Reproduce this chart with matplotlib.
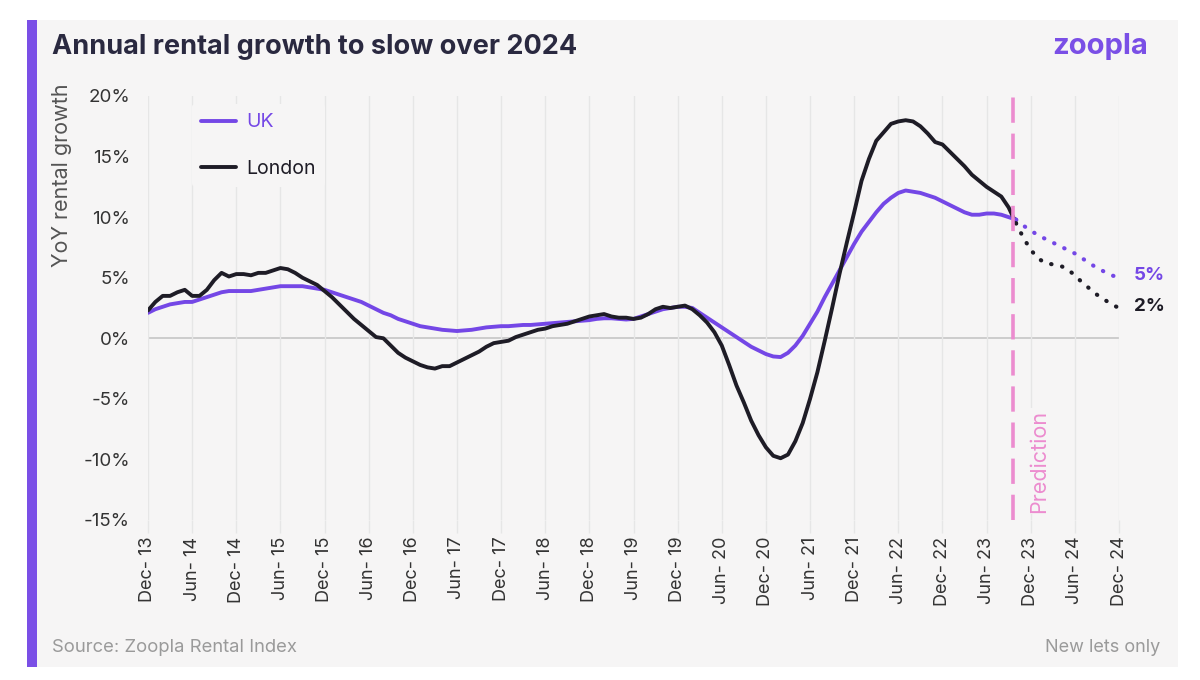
import matplotlib
matplotlib.use("Agg")
import matplotlib.pyplot as plt
from matplotlib.patches import Rectangle

plt.rcParams["font.family"] = ["Inter", "DejaVu Sans"]

# month index 0 = Dec-13
uk = [2.1, 2.4, 2.6, 2.8, 2.9, 3.0, 3.0, 3.2, 3.4, 3.6, 3.8, 3.9, 3.9, 3.9, 3.9, 4.0,
      4.1, 4.2, 4.3, 4.3, 4.3, 4.3, 4.2, 4.1, 4.0, 3.8, 3.6, 3.4, 3.2, 3.0, 2.7, 2.4,
      2.1, 1.9, 1.6, 1.4, 1.2, 1.0, 0.9, 0.8, 0.7, 0.65, 0.6, 0.65, 0.7, 0.8, 0.9, 0.95,
      1.0, 1.0, 1.05, 1.1, 1.1, 1.15, 1.2, 1.25, 1.3, 1.35, 1.4, 1.45, 1.5, 1.6, 1.65, 1.65,
      1.6, 1.55, 1.6, 1.8, 2.0, 2.2, 2.4, 2.5, 2.6, 2.6, 2.5, 2.1, 1.7, 1.3, 0.9, 0.5,
      0.1, -0.3, -0.7, -1.0, -1.3, -1.5, -1.55, -1.2, -0.6, 0.2, 1.2, 2.2, 3.4, 4.5, 5.6, 6.7,
      7.8, 8.8, 9.6, 10.4, 11.1, 11.6, 12.0, 12.2, 12.1, 12.0, 11.8, 11.6, 11.3, 11.0, 10.7, 10.4,
      10.2, 10.2, 10.3, 10.3, 10.2, 10.0, 9.8]
london = [2.3, 3.0, 3.5, 3.5, 3.8, 4.0, 3.5, 3.5, 4.0, 4.8, 5.4, 5.1, 5.3, 5.3, 5.2, 5.4,
          5.4, 5.6, 5.8, 5.7, 5.4, 5.0, 4.7, 4.4, 3.9, 3.4, 2.8, 2.2, 1.6, 1.1, 0.6, 0.1,
          0.0, -0.6, -1.2, -1.6, -1.9, -2.2, -2.4, -2.5, -2.3, -2.3, -2.0, -1.7, -1.4, -1.1, -0.7, -0.4,
          -0.3, -0.2, 0.1, 0.3, 0.5, 0.7, 0.8, 1.0, 1.1, 1.2, 1.4, 1.6, 1.8, 1.9, 2.0, 1.8,
          1.7, 1.7, 1.6, 1.7, 2.0, 2.4, 2.6, 2.5, 2.6, 2.7, 2.4, 1.9, 1.3, 0.5, -0.6, -2.2,
          -3.9, -5.3, -6.8, -8.0, -9.0, -9.7, -9.9, -9.6, -8.5, -7.0, -5.0, -2.8, -0.2, 2.5, 5.3, 7.9,
          10.4, 13.0, 14.8, 16.3, 17.0, 17.7, 17.9, 18.0, 17.9, 17.5, 16.9, 16.2, 16.0, 15.4, 14.8, 14.2,
          13.5, 13.0, 12.5, 12.1, 11.7, 10.8, 9.5]
uk_pred = [9.8, 9.3, 8.9, 8.5, 8.2, 7.9, 7.6, 7.3, 7.0, 6.6, 6.2, 5.8, 5.5, 5.2, 5.0]
london_pred = [9.5, 8.3, 7.3, 6.6, 6.2, 6.1, 6.0, 5.7, 5.2, 4.6, 4.1, 3.6, 3.2, 2.8, 2.5]

tick_labels = ["Dec- 13", "Jun- 14", "Dec- 14", "Jun- 15", "Dec- 15", "Jun- 16", "Dec- 16",
               "Jun- 17", "Dec- 17", "Jun- 18", "Dec- 18", "Jun- 19", "Dec- 19", "Jun- 20",
               "Dec- 20", "Jun- 21", "Dec- 21", "Jun- 22", "Dec- 22", "Jun- 23", "Dec- 23",
               "Jun- 24", "Dec- 24"]
y_ticks = [20, 15, 10, 5, 0, -5, -10, -15]

purple = "#7447e6"
dark = "#1e1c26"
pink = "#ec8ccf"
bg = "#f6f5f5"

fig = plt.figure(figsize=(12, 6.8), dpi=100)
fig.patch.set_facecolor("white")
fig.patches.append(Rectangle((37 / 1200, 13 / 680), 1141 / 1200, 647 / 680,
                             transform=fig.transFigure, facecolor=bg, edgecolor="none", zorder=-2))
fig.patches.append(Rectangle((27 / 1200, 13 / 680), 10 / 1200, 647 / 680,
                             transform=fig.transFigure, facecolor="#7a4fe6", edgecolor="none", zorder=-2))

ax = fig.add_axes([148 / 1200, 160 / 680, 971 / 1200, 424 / 680])
ax.set_facecolor("none")

x_hist = list(range(len(uk)))
x_pred = list(range(len(uk) - 1, len(uk) - 1 + len(uk_pred)))
x_split = x_pred[0] - 0.4

ax.axhline(0, color="#c9c9c9", lw=1.3, zorder=1)
ax.plot(x_hist, uk, color=purple, lw=2.8, label="UK", zorder=3, solid_capstyle="round")
ax.plot(x_hist, london, color=dark, lw=2.8, label="London", zorder=3, solid_capstyle="round")
ax.plot(x_pred, uk_pred, color=purple, lw=3, ls=(0, (0.1, 2.6)), dash_capstyle="round", zorder=3)
ax.plot(x_pred, london_pred, color=dark, lw=3, ls=(0, (0.1, 2.6)), dash_capstyle="round", zorder=3)

ax.plot([x_split, x_split], [-15, 20.6], color=pink, lw=2.6,
        ls=(0, (7, 3)), zorder=4, clip_on=False)

ax.set_xlim(0, 132)
ax.set_ylim(-15, 20)
ax.set_xticks(range(0, 133, 6))
ax.set_xticklabels(tick_labels, rotation=90, fontsize=13, color="#333333")
ax.set_yticks(y_ticks)
ax.set_yticklabels([f"{v}%" for v in y_ticks], fontsize=13.5, color="#333333")
ax.tick_params(axis="y", length=0, pad=13)
ax.tick_params(axis="x", length=9, color="#e6e6e6", width=1, pad=3)
ax.grid(axis="x", color="#e6e6e6", lw=1, zorder=0)
for s in ax.spines.values():
    s.set_visible(False)

ax.text(x_split + 3.6, -14.4, "Prediction", rotation=90, color=pink, fontsize=15.5,
        ha="center", va="bottom", zorder=5,
        bbox=dict(facecolor=bg, edgecolor="none", pad=1))

ax.text(134, uk_pred[-1] + 0.2, "5%", color=purple, fontsize=13.5, weight="bold",
        ha="left", va="center")
ax.text(134, london_pred[-1] + 0.1, "2%", color=dark, fontsize=13.5, weight="bold",
        ha="left", va="center")

leg = ax.legend(loc="upper left", bbox_to_anchor=(0.035, 1.005), frameon=True, fontsize=14,
                handlelength=1.8, labelspacing=1.45, borderpad=0.5, handletextpad=0.5)
leg.get_frame().set_facecolor(bg)
leg.get_frame().set_edgecolor("none")
leg.get_frame().set_alpha(1)
for t, c in zip(leg.get_texts(), [purple, dark]):
    t.set_color(c)

fig.text(62 / 1200, 1 - 175 / 680, "YoY rental growth", rotation=90, fontsize=15.5,
         color="#555555", ha="center", va="center")
fig.text(52 / 1200, 1 - 47 / 680, "Annual rental growth to slow over 2024", fontsize=19.5,
         weight="bold", color="#2a2940", ha="left", va="center")
fig.text(1148 / 1200, 1 - 46 / 680, "zoopla", fontsize=21, weight="bold", color="#7a4fe6",
         ha="right", va="center")
fig.text(52 / 1200, 1 - 647 / 680, "Source: Zoopla Rental Index", fontsize=13.3,
         color="#9a9a9a", ha="left", va="center")
fig.text(1160 / 1200, 1 - 647 / 680, "New lets only", fontsize=13,
         color="#9a9a9a", ha="right", va="center")

fig.savefig("out.png", dpi=100)
